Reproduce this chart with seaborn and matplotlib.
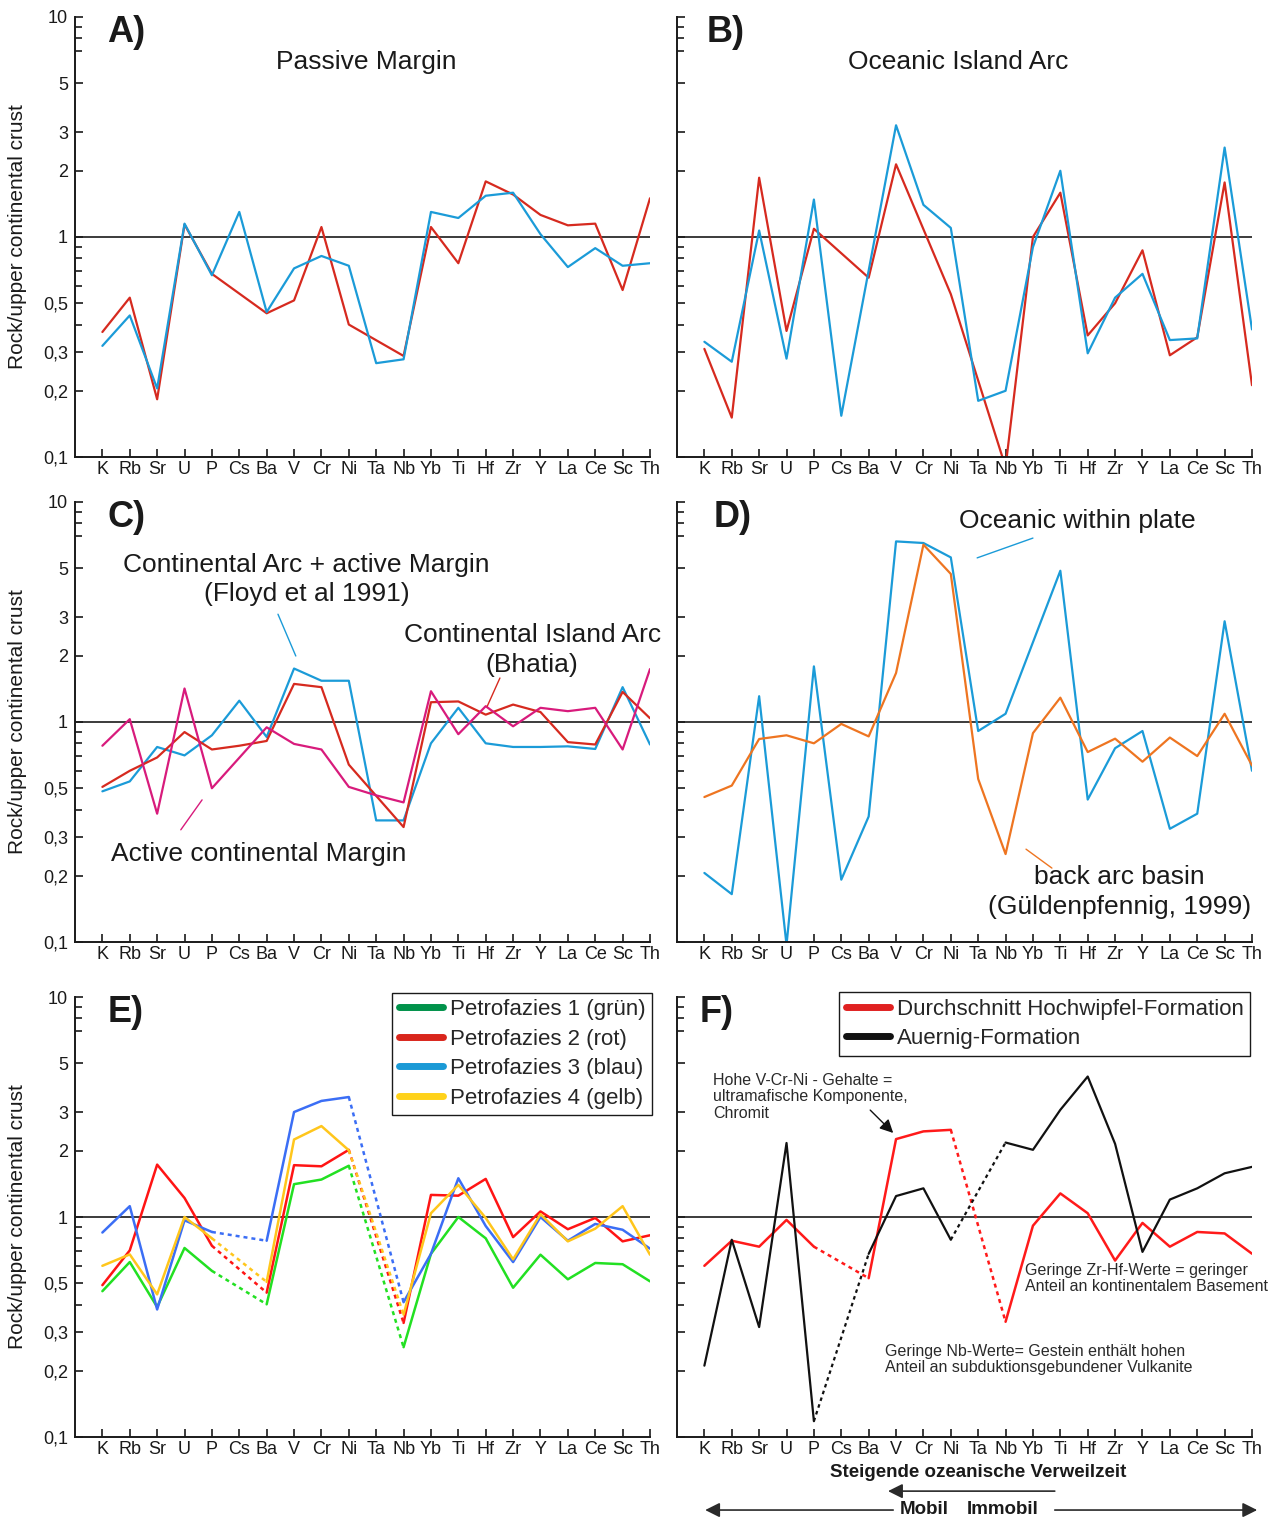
import numpy as np
import pandas as pd
import matplotlib
matplotlib.use("Agg")
import matplotlib.pyplot as plt
from matplotlib.lines import Line2D
from matplotlib.ticker import FixedLocator, FixedFormatter, NullFormatter
import seaborn as sns

# ---------------------------------------------------------------- data
ELEMENTS = ["K", "Rb", "Sr", "U", "P", "Cs", "Ba", "V", "Cr", "Ni", "Ta",
            "Nb", "Yb", "Ti", "Hf", "Zr", "Y", "La", "Ce", "Sc", "Th"]

Y_MAJOR = [0.1, 0.2, 0.3, 0.5, 1, 2, 3, 5, 10]
Y_MAJOR_LABELS = ["0,1", "0,2", "0,3", "0,5", "1", "2", "3", "5", "10"]
Y_MINOR = [0.4, 0.6, 0.7, 0.8, 0.9, 7, 8, 9]

# A) Passive Margin
a_red = [0.37, 0.53, 0.183, 1.14, 0.68, None, 0.45, 0.515, 1.11, 0.40, None,
         0.288, 1.11, 0.76, 1.79, 1.56, 1.26, 1.13, 1.15, 0.574, 1.50]
a_blue = [0.32, 0.44, 0.205, 1.15, 0.67, 1.30, 0.456, 0.72, 0.82, 0.74, 0.267,
          0.278, 1.30, 1.22, 1.54, 1.59, 1.03, 0.73, 0.89, 0.74, 0.76]

# B) Oceanic Island Arc
b_red = [0.31, 0.151, 1.86, 0.374, 1.09, None, 0.653, 2.14, None, 0.55, None,
         0.09, 1.0, 1.59, 0.357, 0.50, 0.87, 0.29, 0.35, 1.77, 0.212]
b_blue = [0.334, 0.271, 1.07, 0.28, 1.48, 0.154, None, 3.22, 1.40, 1.10, 0.18,
          0.20, 0.90, 2.0, 0.296, 0.53, 0.68, 0.34, 0.346, 2.55, 0.38]

# C) Continental arc / active margin / continental island arc
c_blue = [0.484, 0.537, 0.77, 0.705, 0.87, 1.25, 0.855, 1.75, 1.54, 1.54, 0.357,
          0.357, 0.80, 1.16, 0.80, 0.77, 0.77, 0.775, 0.754, 1.44, 0.79]
c_red = [0.507, 0.60, 0.69, 0.90, 0.75, 0.78, 0.82, 1.49, 1.44, 0.64, None,
         0.333, 1.23, 1.24, 1.08, 1.20, 1.11, 0.81, 0.79, 1.37, 1.04]
c_magenta = [0.78, 1.03, 0.383, 1.42, 0.50, None, 0.946, 0.795, 0.75, 0.507, 0.464,
             0.431, 1.38, 0.88, 1.18, 0.956, 1.16, 1.12, 1.16, 0.75, 1.74]

# D) Oceanic within plate / back arc basin
d_blue = [0.206, 0.165, 1.31, 0.097, 1.79, 0.192, 0.372, 6.62, 6.51, 5.6, 0.91,
          1.09, None, 4.87, 0.444, 0.76, 0.91, 0.327, 0.383, 2.87, 0.60]
d_orange = [0.456, 0.514, 0.837, 0.87, 0.80, 0.98, 0.86, 1.67, 6.4, 4.71, 0.551,
            0.251, 0.89, 1.29, 0.73, 0.84, 0.66, 0.85, 0.70, 1.09, 0.634]

# E) Petrofazies 1-4
e_green = [0.46, 0.624, 0.39, 0.723, 0.569, None, 0.401, 1.41, 1.48, 1.71, None,
           0.256, 0.68, 1.0, 0.80, 0.477, 0.674, 0.521, 0.618, 0.61, 0.51]
e_red = [0.49, 0.705, 1.73, 1.22, 0.74, None, 0.453, 1.72, 1.70, 2.02, None,
         0.33, 1.26, 1.25, 1.49, 0.81, 1.06, 0.88, 0.99, 0.775, 0.826]
e_blue = [0.85, 1.12, 0.38, 0.966, 0.855, None, 0.78, 3.0, 3.37, 3.51, None,
          0.41, 0.68, 1.50, 0.91, 0.624, 1.0, 0.78, 0.93, 0.875, 0.718]
e_yellow = [0.60, 0.676, 0.445, 1.0, 0.80, None, 0.507, 2.25, 2.59, 2.01, None,
            0.36, 1.04, 1.40, 0.99, 0.642, 1.03, 0.775, 0.885, 1.12, 0.674]
E_LABELS = ["Petrofazies 1 (grün)", "Petrofazies 2 (rot)",
            "Petrofazies 3 (blau)", "Petrofazies 4 (gelb)"]

# F) Hochwipfel / Auernig
f_red = [0.60, 0.78, 0.733, 0.97, 0.733, None, 0.527, 2.26, 2.45, 2.49, None,
         0.334, 0.913, 1.28, 1.04, 0.634, 0.94, 0.733, 0.855, 0.842, 0.681]
f_black = [0.211, 0.788, 0.316, 2.17, 0.118, None, 0.68, 1.245, 1.35, 0.788, None,
           2.18, 2.02, 3.07, 4.35, 2.15, 0.694, 1.2, 1.35, 1.58, 1.69]
F_LABELS = ["Durchschnitt Hochwipfel-Formation", "Auernig-Formation"]

# gaps (after element index) bridged with a dashed line
DASHED_AFTER = {4, 9}

# ---------------------------------------------------------------- colours
RED = "#d62a1f"
BLUE = "#1b9bd8"
MAGENTA = "#d81b7c"
ORANGE = "#ee7521"
E_COLORS = ["#22e022", "#ff1414", "#3b6ef5", "#ffc61c"]
E_LEGEND_COLORS = ["#00924a", "#d9261c", "#1b9ad6", "#ffd21a"]
F_RED = "#ff1a1a"
F_BLACK = "#111111"

# ---------------------------------------------------------------- style
sns.set_theme(style="ticks")
plt.rcParams["font.family"] = ["Liberation Sans", "DejaVu Sans"]
plt.rcParams["axes.linewidth"] = 1.4
plt.rcParams["axes.edgecolor"] = "#1a1a1a"

W, H = 1279, 1519
fig = plt.figure(figsize=(W / 100, H / 100), dpi=100)


def make_axes(left, bottom, right, top):
    return fig.add_axes([left / W, 1 - bottom / H, (right - left) / W, (bottom - top) / H])


def setup(ax, show_ylabels):
    ax.set_yscale("log")
    ax.set_ylim(0.1, 10)
    ax.set_xlim(-1, 20)
    for side in ("top", "right"):
        ax.spines[side].set_visible(False)
    ax.yaxis.set_major_locator(FixedLocator(Y_MAJOR))
    ax.yaxis.set_major_formatter(FixedFormatter(Y_MAJOR_LABELS))
    ax.yaxis.set_minor_locator(FixedLocator(Y_MINOR))
    ax.yaxis.set_minor_formatter(NullFormatter())
    ax.set_xticks(range(len(ELEMENTS)))
    ax.set_xticklabels(ELEMENTS)
    ax.tick_params(axis="both", which="major", direction="in", length=6,
                   width=1.2, labelsize=13, colors="#1a1a1a")
    ax.tick_params(axis="y", which="minor", direction="in", length=5, width=1.2,
                   colors="#1a1a1a")
    ax.tick_params(axis="x", pad=3)
    ax.tick_params(axis="y", pad=5, labelleft=show_ylabels)
    ax.axhline(1, color="#1a1a1a", lw=1.2, zorder=1)
    ax.set_xlabel("")
    if show_ylabels:
        ax.set_ylabel("Rock/upper continental crust", fontsize=15, color="#1a1a1a")
        ax.yaxis.set_label_coords(-0.083, 0.5)
    else:
        ax.set_ylabel("")


def draw_series(ax, values, color, lw=1.6, dashed_after=()):
    vals = np.array([np.nan if v is None else v for v in values], dtype=float)
    idx = np.flatnonzero(~np.isnan(vals))
    runs = []
    for a, b in zip(idx[:-1], idx[1:]):
        style = "dash" if a in dashed_after else "solid"
        if runs and runs[-1][0] == style and runs[-1][1][-1] == a:
            runs[-1][1].append(b)
        else:
            runs.append([style, [a, b]])
    for style, pts in runs:
        df = pd.DataFrame({"element": pts, "ratio": vals[pts]})
        ls = "-" if style == "solid" else (0, (1.6, 1.6))
        sns.lineplot(data=df, x="element", y="ratio", ax=ax, color=color, lw=lw,
                     estimator=None, sort=False, linestyle=ls)
    ax.set_xlabel("")
    ax.set_ylabel("")


def panel_letter(ax, letter, x):
    ax.text(x, 0.964, letter, transform=ax.transAxes, fontsize=26,
            fontweight="bold", ha="left", va="center", color="#1a1a1a")


def leader(ax, start, end, color):
    ax.annotate("", xy=end, xytext=start, xycoords="axes fraction",
                textcoords="axes fraction",
                arrowprops=dict(arrowstyle="-", color=color, lw=1.0,
                                shrinkA=0, shrinkB=0))


axA = make_axes(75, 457, 650, 17)
axB = make_axes(677, 457, 1252, 17)
axC = make_axes(75, 942, 650, 502)
axD = make_axes(677, 942, 1252, 502)
axE = make_axes(75, 1437, 650, 997)
axF = make_axes(677, 1437, 1252, 997)

# ---------------------------------------------------------------- A
draw_series(axA, a_red, RED)
draw_series(axA, a_blue, BLUE)
setup(axA, True)
panel_letter(axA, "A)", 0.056)
axA.text(0.506, 0.898, "Passive Margin", transform=axA.transAxes, fontsize=19,
         ha="center", va="center", color="#1a1a1a")

# ---------------------------------------------------------------- B
draw_series(axB, b_red, RED)
draw_series(axB, b_blue, BLUE)
setup(axB, False)
panel_letter(axB, "B)", 0.052)
axB.text(0.489, 0.898, "Oceanic Island Arc", transform=axB.transAxes, fontsize=19,
         ha="center", va="center", color="#1a1a1a")

# ---------------------------------------------------------------- C
draw_series(axC, c_blue, BLUE)
draw_series(axC, c_red, RED)
draw_series(axC, c_magenta, MAGENTA)
setup(axC, True)
panel_letter(axC, "C)", 0.056)
axC.text(0.403, 0.857, "Continental Arc + active Margin", transform=axC.transAxes,
         fontsize=19, ha="center", va="center", color="#1a1a1a")
axC.text(0.403, 0.791, "(Floyd et al 1991)", transform=axC.transAxes,
         fontsize=19, ha="center", va="center", color="#1a1a1a")
axC.text(0.795, 0.698, "Continental Island Arc", transform=axC.transAxes,
         fontsize=19, ha="center", va="center", color="#1a1a1a", clip_on=False)
axC.text(0.795, 0.630, "(Bhatia)", transform=axC.transAxes,
         fontsize=19, ha="center", va="center", color="#1a1a1a")
axC.text(0.319, 0.200, "Active continental Margin", transform=axC.transAxes,
         fontsize=19, ha="center", va="center", color="#1a1a1a")
leader(axC, (0.353, 0.745), (0.384, 0.650), BLUE)
leader(axC, (0.739, 0.600), (0.717, 0.536), RED)
leader(axC, (0.221, 0.323), (0.184, 0.255), MAGENTA)

# ---------------------------------------------------------------- D
draw_series(axD, d_blue, BLUE)
draw_series(axD, d_orange, ORANGE)
setup(axD, False)
panel_letter(axD, "D)", 0.063)
axD.text(0.696, 0.957, "Oceanic within plate", transform=axD.transAxes,
         fontsize=19, ha="center", va="center", color="#1a1a1a")
axD.text(0.770, 0.148, "back arc basin", transform=axD.transAxes,
         fontsize=19, ha="center", va="center", color="#1a1a1a")
axD.text(0.770, 0.080, "(Güldenpfennig, 1999)", transform=axD.transAxes,
         fontsize=19, ha="center", va="center", color="#1a1a1a")
leader(axD, (0.619, 0.918), (0.522, 0.873), BLUE)
leader(axD, (0.607, 0.211), (0.652, 0.168), ORANGE)

# ---------------------------------------------------------------- E
for series, color in zip([e_green, e_red, e_blue, e_yellow], E_COLORS):
    draw_series(axE, series, color, lw=1.8, dashed_after=DASHED_AFTER)
setup(axE, True)
panel_letter(axE, "E)", 0.056)
e_handles = [Line2D([0], [0], color=c, lw=5) for c in E_LEGEND_COLORS]
legE = axE.legend(e_handles, E_LABELS, loc="upper right",
                  bbox_to_anchor=(1.004, 1.01), frameon=True, fancybox=False,
                  framealpha=1, edgecolor="#1a1a1a", fontsize=16,
                  handlelength=2.0, handletextpad=0.3, labelspacing=0.38,
                  borderpad=0.3, borderaxespad=0)
legE.get_frame().set_linewidth(1.0)

# ---------------------------------------------------------------- F
draw_series(axF, f_red, F_RED, lw=1.8, dashed_after=DASHED_AFTER)
draw_series(axF, f_black, F_BLACK, lw=1.6, dashed_after=DASHED_AFTER)
setup(axF, False)
panel_letter(axF, "F)", 0.040)
f_handles = [Line2D([0], [0], color=c, lw=5) for c in ["#e02020", "#111111"]]
legF = axF.legend(f_handles, F_LABELS, loc="upper right",
                  bbox_to_anchor=(0.997, 1.011), frameon=True, fancybox=False,
                  framealpha=1, edgecolor="#1a1a1a", fontsize=16,
                  handlelength=2.0, handletextpad=0.3, labelspacing=0.38,
                  borderpad=0.3, borderaxespad=0)
legF.get_frame().set_linewidth(1.0)

NOTE = "#2a2a2a"
axF.text(0.063, 0.827, "Hohe V-Cr-Ni - Gehalte =\nultramafische Komponente,\nChromit",
         transform=axF.transAxes, fontsize=11.5, ha="left", va="top",
         color=NOTE, linespacing=1.1)
axF.annotate("", xy=(0.376, 0.691), xytext=(0.336, 0.743),
             xycoords="axes fraction", textcoords="axes fraction",
             arrowprops=dict(arrowstyle="-|>", color="#111111", lw=1.0,
                             mutation_scale=20, shrinkA=0, shrinkB=0))
axF.text(0.605, 0.395, "Geringe Zr-Hf-Werte = geringer\nAnteil an kontinentalem Basement",
         transform=axF.transAxes, fontsize=11.5, ha="left", va="top",
         color=NOTE, linespacing=1.1, clip_on=False)
axF.text(0.362, 0.211,
         "Geringe Nb-Werte= Gestein enthält hohen\nAnteil an subduktionsgebundener Vulkanite",
         transform=axF.transAxes, fontsize=11.5, ha="left", va="top",
         color=NOTE, linespacing=1.1)

# mobility annotation below panel F
axF.text(0.523, -0.080, "Steigende ozeanische Verweilzeit", transform=axF.transAxes,
         fontsize=13.5, fontweight="bold", ha="center", va="center",
         color="#1a1a1a", clip_on=False)
arrow_kw = dict(arrowstyle="-|>", color="#2a2a2a", lw=1.2, mutation_scale=22,
                shrinkA=0, shrinkB=0)
axF.annotate("", xy=(0.367, -0.123), xytext=(0.657, -0.123),
             xycoords="axes fraction", textcoords="axes fraction",
             arrowprops=arrow_kw, annotation_clip=False)
axF.annotate("", xy=(0.049, -0.166), xytext=(0.376, -0.166),
             xycoords="axes fraction", textcoords="axes fraction",
             arrowprops=arrow_kw, annotation_clip=False)
axF.annotate("", xy=(1.009, -0.166), xytext=(0.657, -0.166),
             xycoords="axes fraction", textcoords="axes fraction",
             arrowprops=arrow_kw, annotation_clip=False)
axF.text(0.430, -0.164, "Mobil", transform=axF.transAxes, fontsize=13.5,
         fontweight="bold", ha="center", va="center", color="#1a1a1a")
axF.text(0.567, -0.164, "Immobil", transform=axF.transAxes, fontsize=13.5,
         fontweight="bold", ha="center", va="center", color="#1a1a1a")

fig.savefig("out.png", dpi=100, facecolor="white")
